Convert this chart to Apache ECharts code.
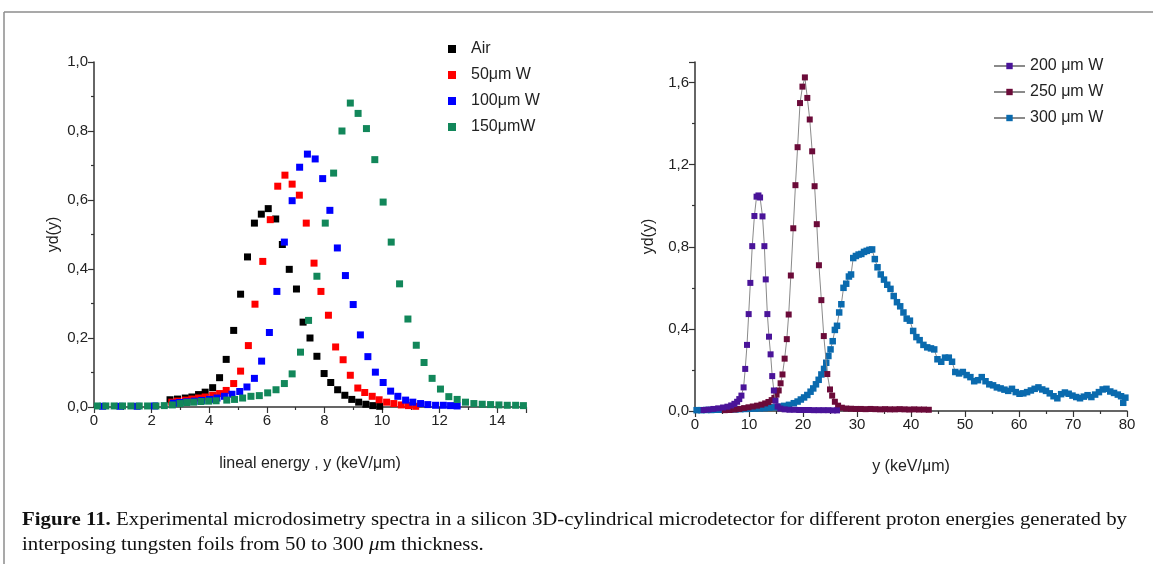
<!DOCTYPE html>
<html>
<head>
<meta charset="utf-8">
<script src="https://cdn.jsdelivr.net/npm/echarts@6/dist/echarts.min.js"></script>
<style>
html,body{margin:0;padding:0;background:#fff;}
#c{width:1153px;height:564px;}
</style>
</head>
<body>
<div id="c"></div>
<script>
// ---------- Left panel: lineal energy spectra (x: keV/µm, y: yd(y)) ----------
const leftNames = ['Air', '50μm W', '100μm W', '150μmW'];
const air = [[2.64,0.021],[2.90,0.023],[3.17,0.026],[3.40,0.029],[3.63,0.036],[3.86,0.043],[4.12,0.056],[4.36,0.085],[4.59,0.138],[4.85,0.222],[5.09,0.327],[5.33,0.435],[5.57,0.533],[5.81,0.559],[6.05,0.575],[6.31,0.545],[6.54,0.471],[6.78,0.399],[7.03,0.342],[7.26,0.246],[7.50,0.200],[7.74,0.147],[7.99,0.097],[8.22,0.071],[8.46,0.050],[8.71,0.034],[8.95,0.022],[9.19,0.014],[9.44,0.008],[9.68,0.004],[9.92,0.002]];
const w50 = [[2.70,0.014],[2.90,0.017],[3.17,0.020],[3.40,0.023],[3.63,0.026],[3.86,0.029],[4.12,0.034],[4.36,0.039],[4.59,0.048],[4.85,0.068],[5.09,0.104],[5.36,0.178],[5.59,0.298],[5.86,0.422],[6.12,0.543],[6.38,0.640],[6.63,0.672],[6.88,0.646],[7.13,0.614],[7.37,0.533],[7.64,0.417],[7.88,0.335],[8.14,0.266],[8.39,0.174],[8.65,0.137],[8.90,0.092],[9.16,0.055],[9.40,0.042],[9.66,0.031],[9.90,0.021],[10.16,0.014],[10.41,0.010],[10.67,0.006],[10.92,0.004],[11.17,0.002]];
const w100 = [[0.30,0.002],[0.90,0.002],[1.50,0.002],[2.10,0.003],[2.76,0.011],[2.97,0.013],[3.22,0.015],[3.48,0.017],[3.74,0.019],[4.01,0.022],[4.27,0.026],[4.53,0.031],[4.79,0.037],[5.06,0.045],[5.31,0.058],[5.57,0.083],[5.82,0.133],[6.09,0.216],[6.35,0.335],[6.61,0.478],[6.88,0.598],[7.14,0.695],[7.41,0.733],[7.68,0.719],[7.94,0.662],[8.19,0.570],[8.45,0.461],[8.73,0.381],[9.00,0.297],[9.25,0.209],[9.51,0.146],[9.77,0.101],[10.04,0.071],[10.30,0.046],[10.55,0.031],[10.82,0.020],[11.07,0.014],[11.34,0.010],[11.59,0.007],[11.86,0.005],[12.13,0.005],[12.38,0.004],[12.61,0.003]];
const w150 = [[0.12,0.003],[0.41,0.003],[0.70,0.003],[0.99,0.003],[1.28,0.003],[1.57,0.003],[1.86,0.003],[2.15,0.003],[2.44,0.004],[2.72,0.006],[2.99,0.010],[3.22,0.013],[3.46,0.014],[3.72,0.016],[3.98,0.017],[4.24,0.018],[4.61,0.020],[4.88,0.022],[5.16,0.026],[5.45,0.031],[5.74,0.033],[6.03,0.041],[6.32,0.050],[6.61,0.068],[6.88,0.096],[7.17,0.159],[7.45,0.251],[7.74,0.379],[8.03,0.533],[8.32,0.678],[8.61,0.800],[8.90,0.881],[9.17,0.851],[9.46,0.807],[9.75,0.717],[10.04,0.594],[10.32,0.478],[10.61,0.357],[10.90,0.255],[11.19,0.179],[11.46,0.129],[11.74,0.083],[12.03,0.052],[12.32,0.030],[12.61,0.022],[12.90,0.014],[13.19,0.010],[13.48,0.008],[13.77,0.007],[14.06,0.006],[14.35,0.005],[14.64,0.005],[14.91,0.004]];
const leftColors = ['#000000', '#ff0000', '#0000ff', '#12875a'];

// ---------- Right panel: thicker foils ----------
const rightNames = ['200 μm W', '250 μm W', '300 μm W'];
const w200 = [[1.6,0.005],[2.5,0.007],[3.4,0.010],[4.3,0.013],[5.2,0.017],[6.0,0.021],[6.7,0.027],[7.3,0.035],[7.8,0.045],[8.2,0.058],[8.6,0.075],[9.0,0.115],[9.3,0.205],[9.63,0.322],[9.94,0.472],[10.25,0.624],[10.6,0.803],[11.0,0.950],[11.4,1.044],[11.75,1.050],[12.05,1.040],[12.5,0.948],[12.85,0.803],[13.1,0.641],[13.4,0.472],[13.7,0.362],[14.0,0.276],[14.3,0.170],[14.6,0.100],[14.9,0.050],[15.3,0.022],[15.8,0.012],[16.6,0.008],[17.5,0.006],[18.4,0.006],[19.3,0.005],[20.2,0.005],[21.1,0.005],[22.0,0.004],[22.9,0.004],[23.8,0.004],[24.7,0.004],[25.6,0.003],[26.3,0.003]];
const w250 = [[5.5,0.004],[6.4,0.005],[7.3,0.007],[8.2,0.010],[9.1,0.014],[9.9,0.018],[10.7,0.022],[11.5,0.026],[12.3,0.031],[13.0,0.037],[13.6,0.044],[14.2,0.053],[14.7,0.064],[15.1,0.080],[15.5,0.100],[15.85,0.135],[16.2,0.178],[16.6,0.255],[17.0,0.350],[17.35,0.470],[17.75,0.660],[18.2,0.890],[18.6,1.100],[19.0,1.285],[19.45,1.500],[19.9,1.580],[20.35,1.625],[20.8,1.525],[21.25,1.420],[21.7,1.265],[22.15,1.095],[22.55,0.910],[22.95,0.710],[23.4,0.540],[23.85,0.365],[24.5,0.180],[25.0,0.105],[25.4,0.075],[25.9,0.045],[26.5,0.026],[27.2,0.016],[28.0,0.012],[28.9,0.011],[29.8,0.010],[30.7,0.010],[31.6,0.009],[32.5,0.010],[33.4,0.009],[34.3,0.008],[35.2,0.009],[36.1,0.008],[37.0,0.008],[37.9,0.009],[38.8,0.008],[39.7,0.007],[40.6,0.008],[41.5,0.007],[42.4,0.007],[43.3,0.006]];
const w300 = [[0.3,0.004],[1.2,0.004],[2.1,0.005],[3.0,0.005],[3.9,0.006],[4.8,0.006],[5.7,0.007],[6.6,0.008],[7.5,0.008],[8.4,0.009],[9.3,0.010],[10.2,0.011],[11.1,0.012],[12.0,0.013],[12.9,0.014],[13.8,0.016],[14.7,0.018],[15.6,0.021],[16.5,0.025],[17.4,0.030],[18.3,0.038],[19.0,0.046],[19.6,0.056],[20.2,0.066],[20.8,0.078],[21.4,0.094],[21.9,0.110],[22.4,0.130],[22.9,0.152],[23.4,0.178],[23.9,0.205],[24.3,0.235],[24.7,0.268],[25.1,0.300],[25.5,0.340],[25.9,0.395],[26.3,0.415],[26.7,0.480],[27.1,0.520],[27.5,0.600],[28.0,0.620],[28.5,0.655],[28.9,0.665],[29.3,0.745],[29.8,0.755],[30.3,0.762],[30.8,0.765],[31.3,0.775],[31.8,0.780],[32.3,0.785],[32.8,0.787],[33.3,0.740],[33.8,0.700],[34.4,0.665],[35.0,0.640],[35.6,0.615],[36.2,0.595],[36.8,0.560],[37.4,0.530],[38.0,0.510],[38.6,0.480],[39.2,0.450],[39.8,0.440],[40.4,0.390],[41.0,0.360],[41.6,0.345],[42.3,0.322],[43.0,0.310],[43.7,0.305],[44.3,0.300],[44.9,0.252],[45.6,0.240],[46.3,0.260],[47.0,0.260],[47.6,0.240],[48.2,0.190],[48.9,0.183],[49.6,0.190],[50.3,0.175],[51.0,0.165],[51.7,0.145],[52.4,0.150],[53.1,0.165],[53.8,0.145],[54.5,0.130],[55.2,0.125],[55.9,0.115],[56.6,0.110],[57.3,0.104],[58.0,0.098],[58.7,0.108],[59.4,0.092],[60.1,0.084],[60.8,0.086],[61.5,0.092],[62.2,0.100],[62.9,0.108],[63.6,0.115],[64.3,0.105],[65.0,0.098],[65.7,0.086],[66.4,0.072],[67.1,0.062],[67.8,0.082],[68.5,0.090],[69.2,0.084],[69.9,0.075],[70.6,0.068],[71.3,0.062],[72.0,0.070],[72.7,0.077],[73.4,0.068],[74.1,0.080],[74.8,0.092],[75.5,0.105],[76.2,0.108],[76.9,0.095],[77.6,0.088],[78.3,0.080],[78.9,0.072],[79.3,0.040],[79.7,0.065]];
const rightColors = ['#4a1499', '#6b0b39', '#0a6aae'];

// Tick settings
const leftXTicks = {min: 0, max: 15, interval: 2};
const leftYTicks = {min: 0, max: 1.0, interval: 0.2};
const rightXTicks = {min: 0, max: 80, interval: 10};
const rightYTicks = {min: 0, max: 1.7, interval: 0.4};

const captionBold = 'Figure 11.';
const caption1 = ' Experimental microdosimetry spectra in a silicon 3D-cylindrical microdetector for different proton energies generated by';
const caption2 = 'interposing tungsten foils from 50 to 300 ';

const FONT = 'Liberation Sans, Arial, sans-serif';
const SERIF = 'Liberation Serif, serif';
const CAP_SIZE = 18;
const comma = v => v.toFixed(1).replace('.', ',');

// fit caption line 1 to the reference width (22 .. 1127)
const mctx = document.createElement('canvas').getContext('2d');
mctx.font = 'bold ' + CAP_SIZE + 'px ' + SERIF;
let capW = mctx.measureText(captionBold).width;
mctx.font = CAP_SIZE + 'px ' + SERIF;
capW += mctx.measureText(caption1).width;
const capScale = 1105 / capW;

function axisCommon() {
  return {
    axisLine: {show: true, onZero: false, lineStyle: {color: '#333', width: 1.5}},
    axisTick: {show: true, inside: false, length: 6, lineStyle: {color: '#333', width: 1.2}},
    minorTick: {show: true, splitNumber: 2, length: 3, lineStyle: {color: '#333', width: 1.2}},
    splitLine: {show: false},
    minorSplitLine: {show: false},
    axisLabel: {color: '#222', fontSize: 15, fontFamily: FONT, showMaxLabel: false, margin: 6},
    nameTextStyle: {color: '#222', fontSize: 16, fontFamily: FONT},
    nameLocation: 'middle'
  };
}

const chart = echarts.init(document.getElementById('c'), null, {renderer: 'canvas'});

const series = [];
[air, w50, w100, w150].forEach((d, i) => {
  series.push({
    name: leftNames[i], type: 'scatter', xAxisIndex: 0, yAxisIndex: 0,
    data: d, symbol: 'rect', symbolSize: 7,
    itemStyle: {color: leftColors[i], opacity: 1},
    emphasis: {disabled: true}, z: 2 + i
  });
});
// draw order: 300 first, then 250, then 200
[2, 1, 0].forEach((i, k) => {
  const d = [w200, w250, w300][i];
  series.push({
    name: rightNames[i], type: 'line', xAxisIndex: 1, yAxisIndex: 1,
    data: d, symbol: 'rect', symbolSize: i === 2 ? 6.5 : 6, showAllSymbol: true,
    lineStyle: {color: '#8a8a8a', width: 1},
    itemStyle: {color: rightColors[i]},
    emphasis: {disabled: true}, z: 2 + k, animation: false
  });
});

const option = {
  animation: false,
  backgroundColor: '#fff',
  grid: [
    {left: 94, top: 62, width: 432, height: 345, containLabel: false},
    {left: 695, top: 62, width: 432, height: 349, containLabel: false}
  ],
  xAxis: [
    Object.assign(axisCommon(), {type: 'value', gridIndex: 0, min: leftXTicks.min, max: leftXTicks.max, interval: leftXTicks.interval,
      name: 'lineal energy , y (keV/μm)', nameGap: 49}),
    Object.assign(axisCommon(), {type: 'value', gridIndex: 1, min: rightXTicks.min, max: rightXTicks.max, interval: rightXTicks.interval,
      name: 'y (keV/μm)', nameGap: 48})
  ],
  yAxis: [
    Object.assign(axisCommon(), {type: 'value', gridIndex: 0, min: leftYTicks.min, max: leftYTicks.max, interval: leftYTicks.interval,
      name: 'yd(y)', nameGap: 32, nameRotate: 90}),
    Object.assign(axisCommon(), {type: 'value', gridIndex: 1, min: rightYTicks.min, max: rightYTicks.max, interval: rightYTicks.interval,
      name: 'yd(y)', nameGap: 38, nameRotate: 90})
  ],
  legend: [
    {data: leftNames, orient: 'vertical', left: 443, top: 36, icon: 'rect', itemWidth: 8, itemHeight: 8, itemGap: 10,
      textStyle: {fontSize: 16, color: '#222', fontFamily: FONT, padding: [0, 0, 0, 10]}, selectedMode: false},
    {data: rightNames, orient: 'vertical', left: 988, top: 53, itemWidth: 31, itemHeight: 8, itemGap: 10,
      textStyle: {fontSize: 16, color: '#222', fontFamily: FONT, padding: [0, 0, 0, 0]}, selectedMode: false}
  ],
  graphic: [
    {type: 'line', shape: {x1: 4, y1: 12, x2: 1153, y2: 12}, style: {stroke: '#8c8c8c', lineWidth: 1.5}},
    {type: 'line', shape: {x1: 4, y1: 12, x2: 4, y2: 564}, style: {stroke: '#8c8c8c', lineWidth: 1.5}},
    {type: 'text', x: 22, y: 511, scaleX: capScale, style: {
      text: '{b|' + captionBold + '}' + caption1,
      rich: {b: {fontWeight: 'bold', fontFamily: SERIF, fontSize: CAP_SIZE, fill: '#111'}},
      fontFamily: SERIF, fontSize: CAP_SIZE, fill: '#111'}},
    {type: 'text', x: 22, y: 536, scaleX: capScale, style: {
      text: caption2 + '{i|μ}m thickness.',
      rich: {i: {fontStyle: 'italic', fontFamily: SERIF, fontSize: CAP_SIZE, fill: '#111'}},
      fontFamily: SERIF, fontSize: CAP_SIZE, fill: '#111'}}
  ],
  series: series
};
option.yAxis[0].axisLabel.formatter = comma;
option.yAxis[1].axisLabel.formatter = comma;
option.yAxis[0].axisLabel.showMaxLabel = true;
option.xAxis[1].axisLabel.showMaxLabel = true;
chart.setOption(option);
</script>
</body>
</html>
